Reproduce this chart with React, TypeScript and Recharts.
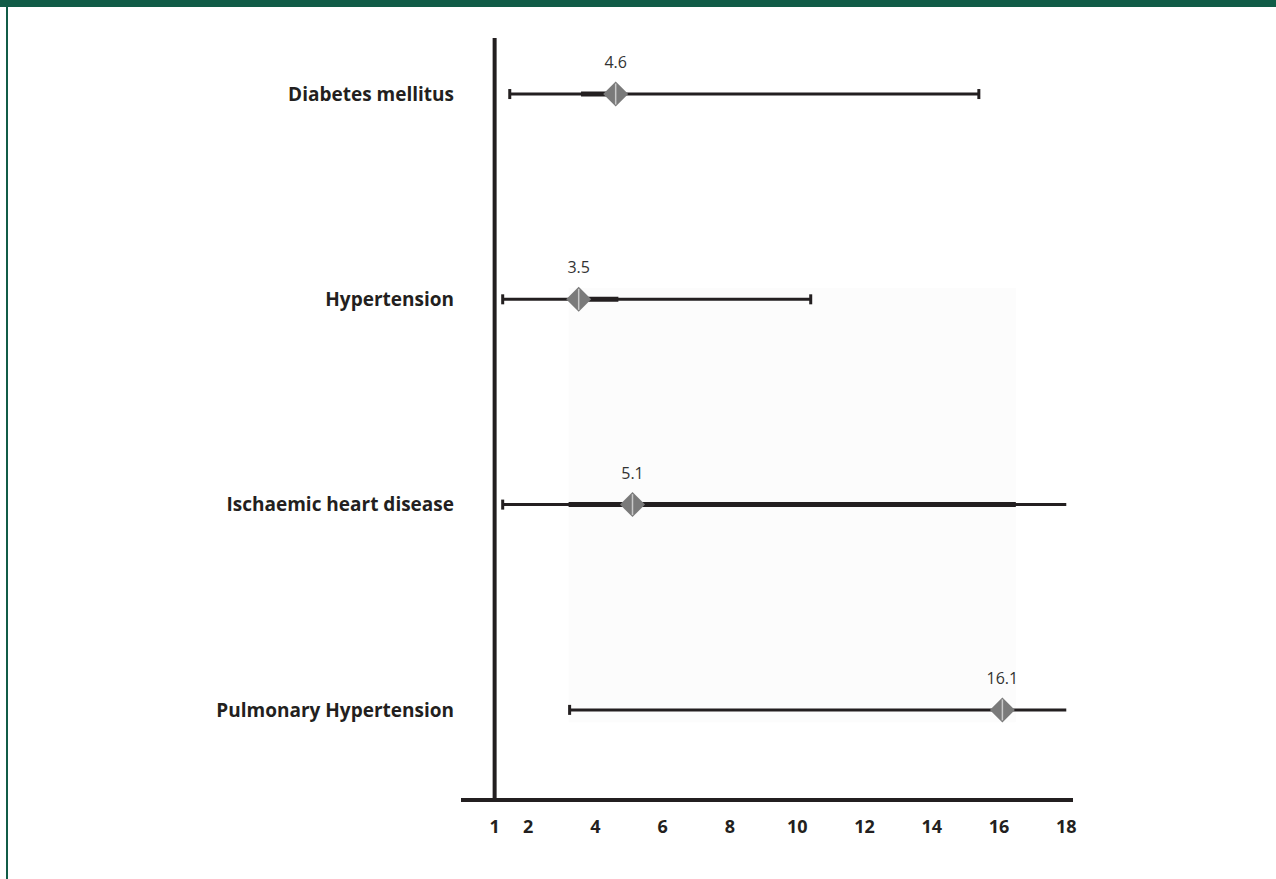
import React from "react";
import {
  ScatterChart,
  Scatter,
  XAxis,
  YAxis,
  ReferenceLine,
  ReferenceArea,
} from "recharts";

const categories = [
  "Diabetes mellitus",
  "Hypertension",
  "Ischaemic heart disease",
  "Pulmonary Hypertension",
];
const estimates = [4.6, 3.5, 5.1, 16.1];
const ciLow = [1.45, 1.24, 1.24, 3.23];
const ciHigh = [15.4, 10.4, 18, 18];
const capRight = [true, true, false, false];
const thickLow = [3.57, 3.5, 3.2, null];
const thickHigh = [4.6, 4.68, 16.5, null];
const xTicks = [1, 2, 4, 6, 8, 10, 12, 14, 16, 18];

const FONT = "'Open Sans', sans-serif";
const INK = "#231f20";

const points = estimates.map((v, i) => ({ x: v, y: i }));
const caps = [
  ...ciLow.map((v, i) => ({ x: v, y: i })),
  ...ciHigh.map((v, i) => ({ x: v, y: i })).filter((_, i) => capRight[i]),
];

function Diamond(props: any) {
  const { cx, cy, payload } = props;
  const w = 12.5;
  const h = 12.5;
  return (
    <g>
      <polygon
        points={`${cx - w},${cy} ${cx},${cy - h} ${cx + w},${cy} ${cx},${cy + h}`}
        fill="#7a7a7a"
      />
      <line x1={cx} x2={cx} y1={cy - h + 2} y2={cy + h - 2} stroke="#c8c8c8" strokeWidth={1.5} />
      <text
        x={cx}
        y={cy - 26}
        textAnchor="middle"
        fontFamily={FONT}
        fontSize={16}
        fill="#333"
      >
        {payload.x}
      </text>
    </g>
  );
}

function Cap(props: any) {
  const { cx, cy } = props;
  return <rect x={cx - 1.5} y={cy - 5} width={3} height={10} fill={INK} />;
}

export default function App() {
  return (
    <div
      style={{
        position: "absolute",
        left: 0,
        top: 0,
        width: 1276,
        height: 879,
        background: "#fff",
        overflow: "hidden",
      }}
    >
      <div style={{ position: "absolute", left: 0, top: 0, width: 1276, height: 7, background: "#115c47" }} />
      <div style={{ position: "absolute", left: 6, top: 0, width: 2, height: 879, background: "#115c47" }} />
      <div style={{ position: "absolute", left: 0, top: 0 }}>
        <ScatterChart width={1276} height={879} margin={{ top: 38, right: 203, bottom: 39, left: 0 }}>
          <XAxis
            type="number"
            dataKey="x"
            domain={[0, 18.2]}
            ticks={xTicks}
            interval={0}
            allowDataOverflow
            axisLine={{ stroke: INK, strokeWidth: 4 }}
            tickLine={false}
            tickSize={0}
            tickMargin={20}
            height={40}
            tick={{ fill: INK, fontFamily: FONT, fontSize: 18, fontWeight: 700 }}
          />
          <YAxis
            type="number"
            dataKey="y"
            domain={[-0.273, 3.439]}
            reversed
            allowDataOverflow
            ticks={[0, 1, 2, 3]}
            interval={0}
            width={461}
            axisLine={false}
            tickLine={false}
            tickSize={0}
            tickMargin={7}
            tickFormatter={(v: number) => categories[v] ?? ""}
            tick={{ fill: INK, fontFamily: FONT, fontSize: 19, fontWeight: 700 }}
          />
          <ReferenceArea x1={3.2} x2={16.5} y1={0.945} y2={3.06} fill="#fcfcfc" fillOpacity={1} stroke="none" />
          <ReferenceLine x={1} stroke={INK} strokeWidth={4} />
          {categories.map((c, i) => (
            <ReferenceLine
              key={"ci" + c}
              segment={[
                { x: ciLow[i], y: i },
                { x: ciHigh[i], y: i },
              ]}
              stroke={INK}
              strokeWidth={3}
            />
          ))}
          {categories.map((c, i) =>
            thickLow[i] != null ? (
              <ReferenceLine
                key={"th" + c}
                segment={[
                  { x: thickLow[i] as number, y: i },
                  { x: thickHigh[i] as number, y: i },
                ]}
                stroke={INK}
                strokeWidth={5}
              />
            ) : null
          )}
          <Scatter data={caps} shape={<Cap />} isAnimationActive={false} />
          <Scatter data={points} shape={<Diamond />} isAnimationActive={false} />
        </ScatterChart>
      </div>
    </div>
  );
}
